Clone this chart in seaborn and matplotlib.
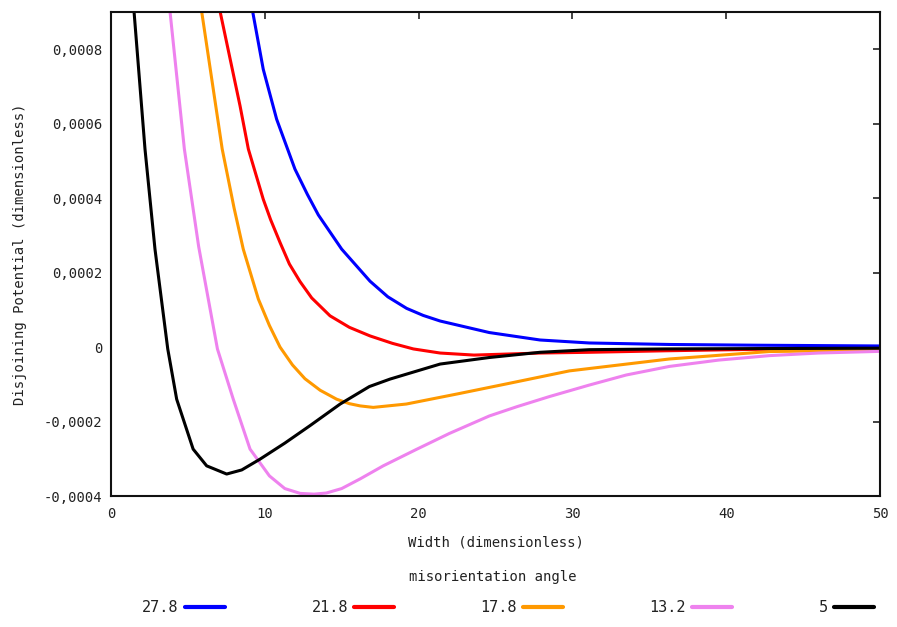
import numpy as np
import pandas as pd
import matplotlib
matplotlib.use("Agg")
import matplotlib.pyplot as plt
import seaborn as sns
from matplotlib.ticker import FuncFormatter, MultipleLocator
from matplotlib.lines import Line2D

# ---- data ----
angles = ["27.8", "21.8", "17.8", "13.2", "5"]
colors = ["#0000ff", "#ff0000", "#ff9900", "#ee82ee", "#000000"]

x_278 = [8.8, 9.3, 9.9, 10.77, 11.96, 12.77, 13.48, 15.0, 16.84, 18.0, 19.22, 20.3, 21.4, 24.6, 27.9, 31.1,
         36.3, 42.0, 46.0, 50.0]
y_278 = [9.95e-4, 8.81e-4, 7.46e-4, 6.12e-4, 4.78e-4, 4.1e-4, 3.55e-4, 2.63e-4, 1.77e-4, 1.35e-4, 1.04e-4,
         8.5e-5, 7.0e-5, 3.9e-5, 1.9e-5, 1.1e-5, 7e-6, 5e-6, 4e-6, 3e-6]

x_218 = [6.7, 7.1, 8.39, 8.93, 9.9, 10.38, 11.0, 11.6, 12.29, 13.05, 14.24, 15.5, 16.84, 18.3, 19.66, 21.4,
         23.6, 27.9, 31.1, 36.0, 42.0, 50.0]
y_218 = [9.85e-4, 9.0e-4, 6.48e-4, 5.32e-4, 3.97e-4, 3.42e-4, 2.8e-4, 2.23e-4, 1.76e-4, 1.32e-4, 8.4e-5,
         5.3e-5, 3.0e-5, 1.0e-5, -5e-6, -1.6e-5, -2.15e-5, -1.6e-5, -1.4e-5, -1.0e-5, -6e-6, -4e-6]

x_178 = [5.6, 5.9, 7.23, 8.0, 8.6, 9.58, 10.3, 10.99, 11.8, 12.61, 13.6, 14.67, 15.5, 16.2, 17.05, 19.2, 22.5,
         25.7, 29.8, 36.3, 42.8, 50.0]
y_178 = [9.9e-4, 9.0e-4, 5.32e-4, 3.74e-4, 2.63e-4, 1.29e-4, 5.8e-5, 0.0, -4.8e-5, -8.5e-5, -1.16e-4, -1.4e-4,
         -1.52e-4, -1.58e-4, -1.62e-4, -1.53e-4, -1.26e-4, -9.9e-5, -6.4e-5, -3.2e-5, -1.2e-5, -8e-6]

x_132 = [3.6, 3.84, 4.77, 5.7, 6.92, 7.95, 9.04, 10.3, 11.3, 12.3, 13.2, 14.0, 15.0, 16.2, 17.7, 19.8, 22.0,
         24.6, 26.4, 28.5, 31.1, 33.5, 36.3, 39.5, 42.8, 46.0, 50.0]
y_132 = [9.95e-4, 9.0e-4, 5.32e-4, 2.7e-4, -5e-6, -1.4e-4, -2.74e-4, -3.46e-4, -3.8e-4, -3.93e-4, -3.95e-4,
         -3.92e-4, -3.8e-4, -3.54e-4, -3.19e-4, -2.76e-4, -2.32e-4, -1.85e-4, -1.6e-4, -1.33e-4, -1.02e-4,
         -7.5e-5, -5.2e-5, -3.5e-5, -2.3e-5, -1.6e-5, -1.15e-5]

x_5 = [1.3, 1.5, 2.21, 2.86, 3.69, 4.27, 5.34, 6.22, 7.52, 8.5, 9.69, 11.3, 12.94, 14.9, 16.8, 18.14, 21.4,
       24.6, 27.9, 31.1, 36.0, 42.0, 50.0]
y_5 = [1.0e-3, 9.0e-4, 5.32e-4, 2.63e-4, -5e-6, -1.4e-4, -2.74e-4, -3.19e-4, -3.41e-4, -3.3e-4, -3.01e-4,
       -2.58e-4, -2.11e-4, -1.53e-4, -1.06e-4, -8.6e-5, -4.56e-5, -2.8e-5, -1.4e-5, -7e-6, -5e-6, -4e-6, -3e-6]

series_x = [x_278, x_218, x_178, x_132, x_5]
series_y = [y_278, y_218, y_178, y_132, y_5]

frames = []
for a, xs, ys in zip(angles, series_x, series_y):
    frames.append(pd.DataFrame({"width": xs, "potential": ys, "angle": a}))
df = pd.concat(frames, ignore_index=True)

# ---- style ----
sns.set_style("white")
plt.rcParams["font.family"] = ["DejaVu Sans Mono"]
plt.rcParams["text.color"] = "#222222"
plt.rcParams["axes.labelcolor"] = "#222222"
plt.rcParams["xtick.color"] = "#222222"
plt.rcParams["ytick.color"] = "#222222"

fig = plt.figure(figsize=(8.97, 6.27), dpi=100)
ax = fig.add_axes([111 / 897, 1 - 496 / 627, (880 - 111) / 897, (496 - 12) / 627])

sns.lineplot(data=df, x="width", y="potential", hue="angle", hue_order=angles,
             palette=dict(zip(angles, colors)), estimator=None, sort=False,
             linewidth=2.2, legend=False, ax=ax)

ax.set_xlim(0, 50)
ax.set_ylim(-0.0004, 0.0009)
ax.xaxis.set_major_locator(MultipleLocator(10))
ax.set_yticks([-0.0004, -0.0002, 0, 0.0002, 0.0004, 0.0006, 0.0008])


def yfmt(v, pos):
    if abs(v) < 1e-12:
        return "0"
    return f"{v:.4f}".replace(".", ",")


ax.yaxis.set_major_formatter(FuncFormatter(yfmt))
ax.tick_params(direction="in", length=5, width=1.2, top=True, right=True,
               labelsize=10, pad=8, colors="#222222")
ax.tick_params(axis="y", pad=6)
for s in ax.spines.values():
    s.set_color("#111111")
    s.set_linewidth(1.5)

ax.set_xlabel("Width (dimensionless)", fontsize=10, labelpad=10)
ax.set_ylabel("Disjoining Potential (dimensionless)", fontsize=10, labelpad=12)

# legend below
handles = [Line2D([0], [0], color=c, lw=3) for c in colors]
fig.text(493 / 897, 1 - 577 / 627, "misorientation angle", ha="center", va="center", fontsize=10)
fig.legend(handles, angles, ncol=5, markerfirst=False, frameon=False, loc="center",
           bbox_to_anchor=(508 / 897, 1 - 608 / 627), fontsize=11, handlelength=2.6,
           handletextpad=0.4, columnspacing=5.68)

fig.savefig("out.png", dpi=100, facecolor="white")
